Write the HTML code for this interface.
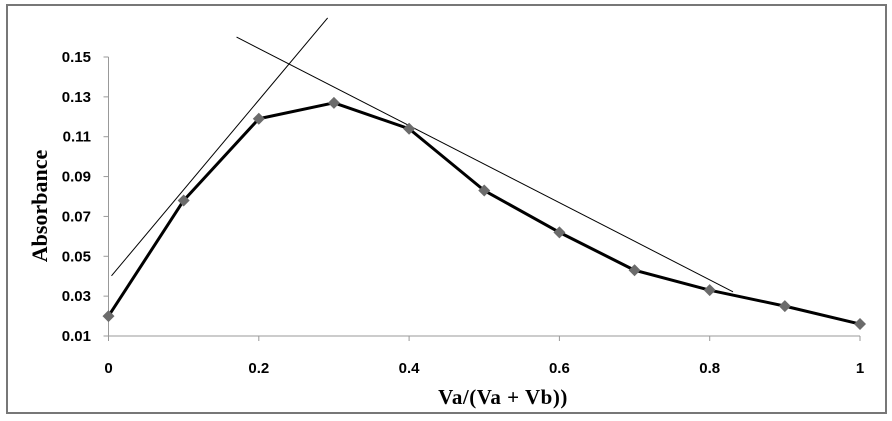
<!DOCTYPE html>
<html><head><meta charset="utf-8"><style>
html,body{margin:0;padding:0;background:#fff;}
svg{display:block;font-family:"Liberation Sans",sans-serif;}
</style></head><body>
<svg width="892" height="421" viewBox="0 0 892 421">
<rect x="7" y="5" width="879" height="408" fill="#fff" stroke="#777" stroke-width="2"/>
<g id="axes"></g><g id="marks"></g>
<text x="503" y="404" text-anchor="middle" font-family="Liberation Serif,serif" font-weight="bold" font-size="21" letter-spacing="0.5">Va/(Va + Vb))</text>
<text transform="translate(47,206) rotate(-90)" text-anchor="middle" font-family="Liberation Serif,serif" font-weight="bold" font-size="22">Absorbance</text>
</svg>
<script>
const xVals=[0,0.1,0.2,0.3,0.4,0.5,0.6,0.7,0.8,0.9,1];
const yVals=[0.02,0.078,0.119,0.127,0.114,0.083,0.062,0.043,0.033,0.025,0.016];
const xTicks=[0,0.2,0.4,0.6,0.8,1];
const xTickLabels=["0","0.2","0.4","0.6","0.8","1"];
const yTicks=[0.01,0.03,0.05,0.07,0.09,0.11,0.13,0.15];
const yTickLabels=["0.01","0.03","0.05","0.07","0.09","0.11","0.13","0.15"];
const tangent1=[[0.004,0.0402],[0.2916,0.1696]];
const tangent2=[[0.1704,0.160],[0.831,0.0322]];
const X=v=>108.5+v*751.5, Y=v=>336-(v-0.01)/0.14*279;
const NS="http://www.w3.org/2000/svg";
function mk(t,a,p){const e=document.createElementNS(NS,t);for(const k in a)e.setAttribute(k,a[k]);p.appendChild(e);return e;}
const ax=document.getElementById('axes'),mg=document.getElementById('marks');
let e=mk('line',{x1:X(0),y1:Y(0.01),x2:X(1),y2:Y(0.01),stroke:'#999'},ax);


e=mk('line',{x1:X(0),y1:Y(0.01),x2:X(0),y2:Y(0.15),stroke:'#999'},ax);


xTicks.forEach((v,i)=>{mk('line',{x1:X(v),y1:Y(0.01),x2:X(v),y2:Y(0.01)+5,stroke:'#999'},ax);
const t=mk('text',{x:X(v),y:373,'text-anchor':'middle','font-size':15,'font-weight':'bold'},ax);t.textContent=xTickLabels[i];

});
yTicks.forEach((v,i)=>{mk('line',{x1:X(0)-5,y1:Y(v),x2:X(0),y2:Y(v),stroke:'#999'},ax);
const t=mk('text',{x:91,y:Y(v)+5,'text-anchor':'end','font-size':15,'font-weight':'bold'},ax);t.textContent=yTickLabels[i];

});
[tangent1,tangent2].forEach((l,i)=>{const t=mk('line',{x1:X(l[0][0]),y1:Y(l[0][1]),x2:X(l[1][0]),y2:Y(l[1][1]),stroke:'#000','stroke-width':1},mg);

});
const p=mk('polyline',{points:xVals.map((v,i)=>X(v)+','+Y(yVals[i])).join(' '),fill:'none',stroke:'#000','stroke-width':3,'stroke-linejoin':'round'},mg);


xVals.forEach((v,i)=>{const cx=X(v),cy=Y(yVals[i]);
const d=mk('polygon',{points:`${cx},${cy-6} ${cx+6},${cy} ${cx},${cy+6} ${cx-6},${cy}`,fill:'#6b6b6b'},mg);

});
</script>
</body></html>
